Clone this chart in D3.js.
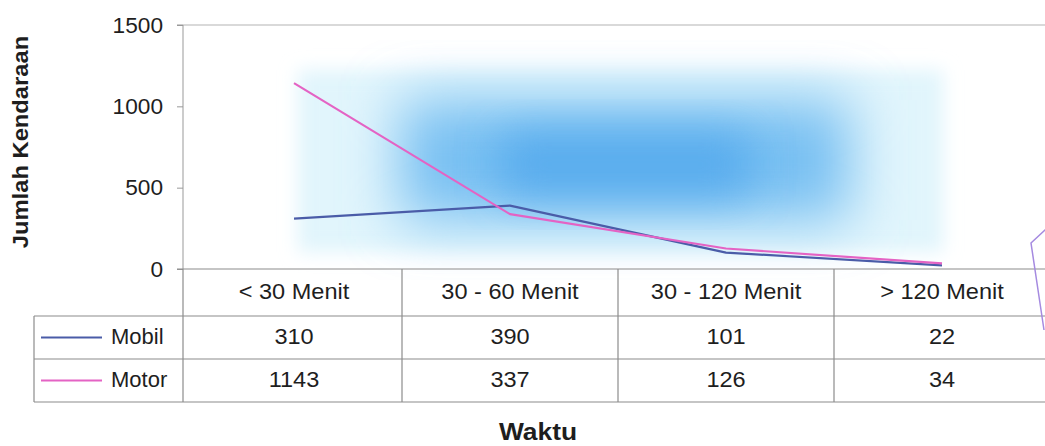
<!DOCTYPE html>
<html><head><meta charset="utf-8">
<script src="https://cdn.jsdelivr.net/npm/d3@7/dist/d3.min.js"></script>
<style>
html,body{margin:0;padding:0;background:#fff;}
text{font-family:"Liberation Sans",Arial,sans-serif;fill:#1e1e1e;}
</style></head>
<body>
<svg id="c" width="1045" height="446"></svg>
<script>
const categories = ["< 30 Menit", "30 - 60 Menit", "30 - 120 Menit", "> 120 Menit"];
const seriesNames = ["Mobil", "Motor"];
const mobil = [310, 390, 101, 22];
const motor = [1143, 337, 126, 34];
const yTicks = [0, 500, 1000, 1500];
const xTitle = "Waktu";
const yTitle = "Jumlah Kendaraan";

const seriesValues = [mobil, motor];
const seriesColors = ["#4a5ca8", "#e463c4"];

const svg = d3.select("#c");
const plotLeft = 186, plotRight = 1050, plotTop = 25, zeroY = 269;
const rowH = [269, 316, 359, 402];

const x = d3.scaleBand().domain(categories).range([plotLeft, plotRight]).padding(0);
const y = d3.scaleLinear().domain([0, 1500]).range([zeroY, plotTop]);

// background glow
const defs = svg.append("defs");
[["b1", 9], ["b2", 28], ["b3", 22]].forEach(([id, s]) => {
  defs.append("filter").attr("id", id).attr("x", "-50%").attr("y", "-50%").attr("width", "200%").attr("height", "200%")
    .append("feGaussianBlur").attr("stdDeviation", s);
});
const glow = svg.append("g");
glow.append("rect").attr("x", 298).attr("y", 70).attr("width", 645).attr("height", 182)
  .attr("fill", "#e1f5fc").attr("filter", "url(#b1)");
glow.append("rect").attr("x", 400).attr("y", 100).attr("width", 450).attr("height", 120)
  .attr("fill", "#78c0f2").attr("filter", "url(#b2)");
glow.append("rect").attr("x", 500).attr("y", 132).attr("width", 250).attr("height", 65)
  .attr("fill", "#4ea5ec").attr("opacity", 0.75).attr("filter", "url(#b3)");

// top border line
svg.append("line").attr("x1", 183).attr("x2", 1045).attr("y1", y(1500)).attr("y2", y(1500))
  .attr("stroke", "#b4b4b4").attr("stroke-width", 1.2);

// y axis
const yAxis = d3.axisLeft(y).tickValues(yTicks).tickFormat(d3.format("d")).tickSize(6).tickPadding(14);
const ga = svg.append("g").attr("transform", `translate(183,0)`).call(yAxis);
ga.select(".domain").attr("stroke", "#999").attr("d", `M-6,${y(1500)}H0V${zeroY}`);
ga.selectAll(".tick line").attr("stroke", "#999");
ga.selectAll(".tick text").attr("font-size", 22).attr("fill", "#1e1e1e")
  .attr("font-family", "Liberation Sans, Arial, sans-serif")
  .each(function () {
    const t = d3.select(this);
    const xx = +t.attr("x");
    t.attr("transform", `translate(${xx},0) scale(1.03,1)`).attr("x", 0);
  });

// lines
const lineGen = d3.line().x((d, i) => x(categories[i]) + x.bandwidth() / 2).y(d => y(d));
seriesValues.forEach((vals, k) => {
  svg.append("path").datum(vals).attr("d", lineGen)
    .attr("fill", "none").attr("stroke", seriesColors[k]).attr("stroke-width", 2.2)
    .attr("stroke-linejoin", "round");
});

// table
const tbl = svg.append("g").attr("stroke", "#8c8c8c").attr("stroke-width", 1.2);
tbl.append("line").attr("x1", 177).attr("x2", 1045).attr("y1", rowH[0]).attr("y2", rowH[0]);
[1, 2, 3].forEach(r => tbl.append("line").attr("x1", 34).attr("x2", 1045).attr("y1", rowH[r]).attr("y2", rowH[r]));
tbl.append("line").attr("x1", 34).attr("x2", 34).attr("y1", rowH[1]).attr("y2", rowH[3]);
tbl.append("line").attr("x1", 183).attr("x2", 183).attr("y1", rowH[0]).attr("y2", rowH[3]);
categories.forEach(c => {
  const xe = x(c) + x.bandwidth();
  tbl.append("line").attr("x1", xe).attr("x2", xe).attr("y1", rowH[0]).attr("y2", rowH[3]);
});

function stext(g, tx, ty, str, size, sx, anchor, weight, rot) {
  return g.append("text")
    .attr("transform", `translate(${tx},${ty})${rot ? " rotate(" + rot + ")" : ""} scale(${sx},1)`)
    .attr("text-anchor", anchor).attr("font-size", size).attr("font-weight", weight || "normal")
    .attr("dominant-baseline", "central").text(str);
}

categories.forEach(c => {
  stext(svg, x(c) + x.bandwidth() / 2, (rowH[0] + rowH[1]) / 2 - 1.5, c, 22, 1.07, "middle");
});
seriesValues.forEach((vals, k) => {
  const cy = (rowH[k + 1] + rowH[k + 2]) / 2;
  vals.forEach((v, i) => stext(svg, x(categories[i]) + x.bandwidth() / 2, cy - 1.5, v, 22, 1.07, "middle"));
  svg.append("line").attr("x1", 41).attr("x2", 102).attr("y1", cy).attr("y2", cy)
    .attr("stroke", seriesColors[k]).attr("stroke-width", 2);
  stext(svg, 111, cy - 1, seriesNames[k], 22, 1.0, "start");
});

// titles
stext(svg, 538, 431, xTitle, 24, 1.1, "middle", "bold");
stext(svg, 20, 142, yTitle, 22, 1.08, "middle", "bold", -90);

// stray purple stroke at right edge
svg.append("path").attr("d", "M1046,229 L1031,243 L1044,330")
  .attr("fill", "none").attr("stroke", "#a58ae0").attr("stroke-width", 1.5);
</script>
</body></html>
